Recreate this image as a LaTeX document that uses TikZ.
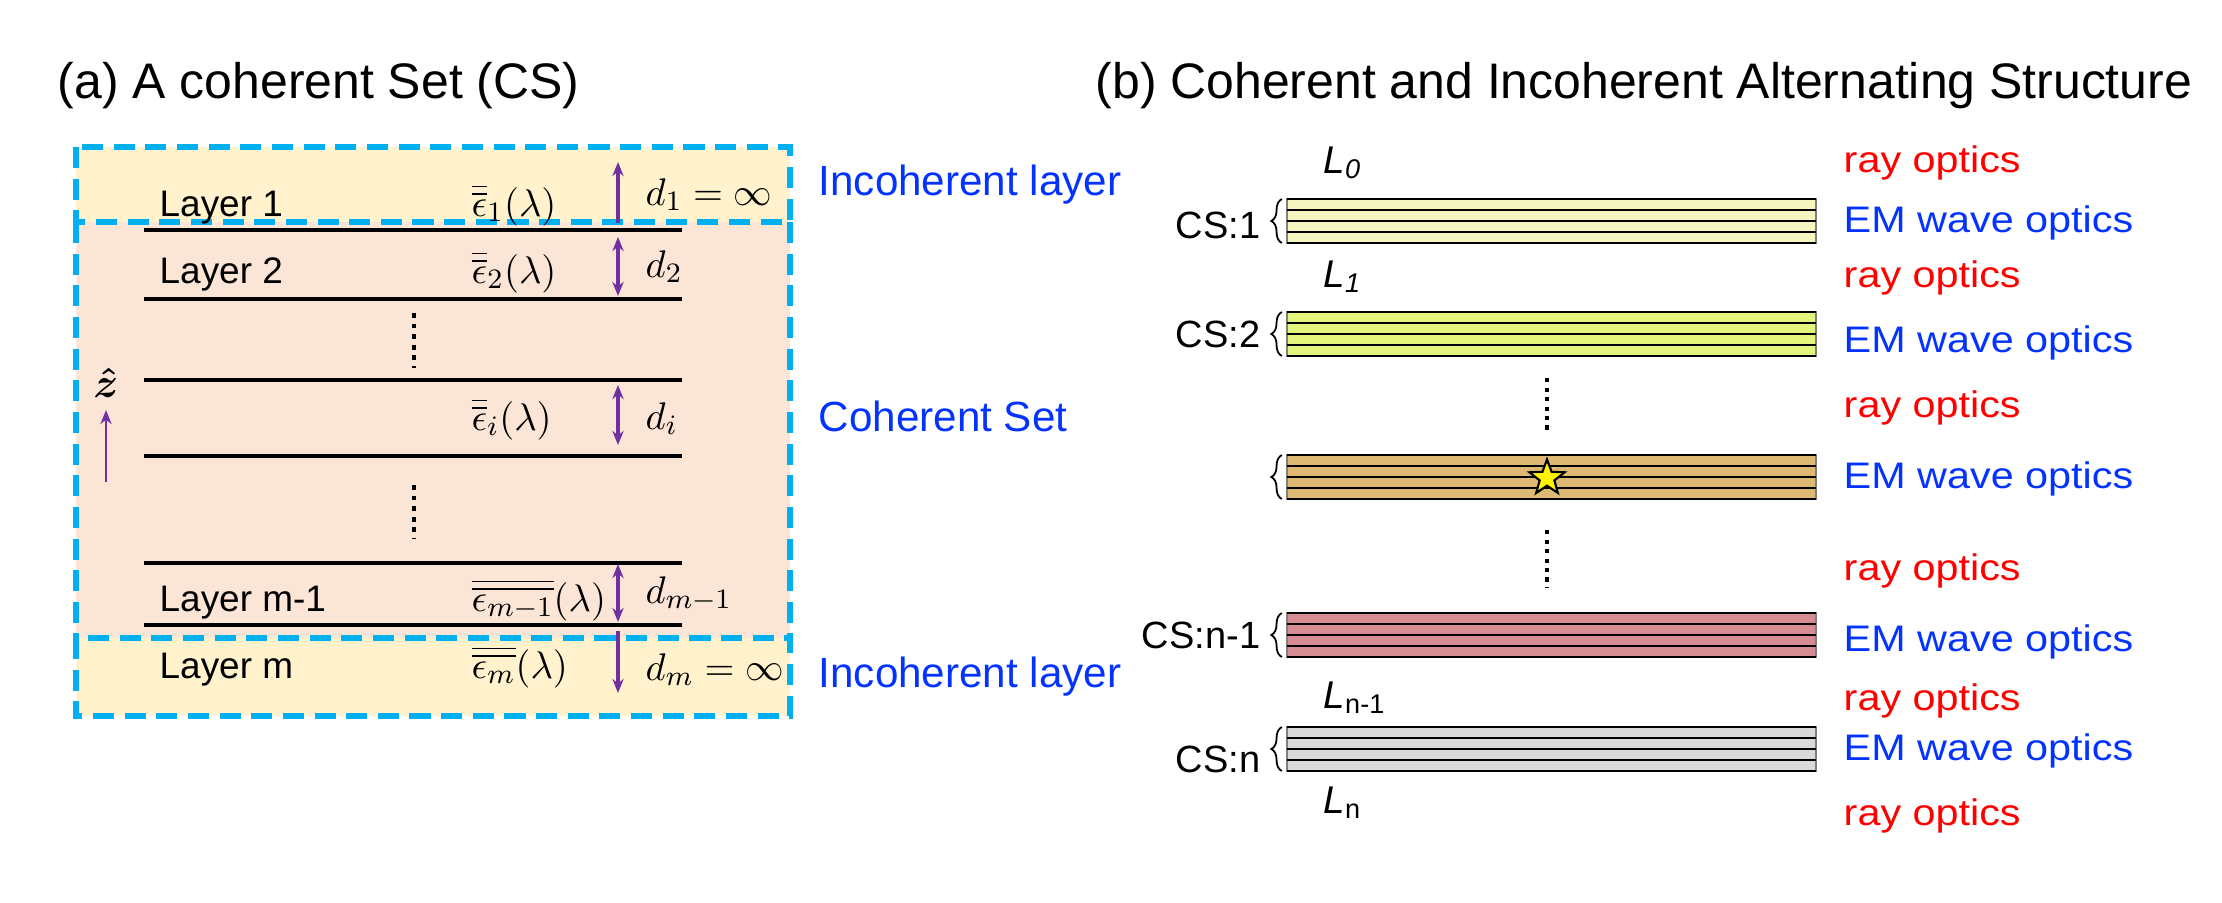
\documentclass[tikz,border=0pt]{standalone}
\usepackage{amsmath,amssymb}
\usepackage{fontspec}
\setmainfont{Liberation Sans}
\newfontfamily\optfont[FakeStretch=1.12]{Liberation Sans}
\usetikzlibrary{arrows.meta,positioning,shapes.geometric,decorations.pathreplacing}

\definecolor{incohfill}{HTML}{FFF2CC}
\definecolor{cohfill}{HTML}{FBE5D6}
\definecolor{dashblue}{HTML}{00B0F0}
\definecolor{dimpurple}{HTML}{7030A0}
\definecolor{labblue}{HTML}{0433FF}
\definecolor{rayred}{HTML}{FF0000}
\definecolor{csA}{HTML}{F4F5C1}
\definecolor{csB}{HTML}{E5F47C}
\definecolor{csC}{HTML}{DDB973}
\definecolor{csD}{HTML}{D58C92}
\definecolor{csE}{HTML}{D9D9D9}

\begin{document}
\begin{tikzpicture}[x=0.01cm,y=-0.01cm,>={Stealth[length=4pt,width=3.2pt]},
    paneltitle/.style={font=\fontsize{14.2}{16}\selectfont,anchor=base west,inner sep=0pt},
    layertxt/.style={font=\fontsize{10.5}{12}\selectfont,anchor=base west,inner sep=0pt},
    epstxt/.style={font=\fontsize{11}{13}\selectfont,anchor=base west,inner sep=0pt},
    sidetxt/.style={font=\fontsize{12}{14}\selectfont,text=labblue,anchor=base west,inner sep=0pt},
    regionbox/.style={dashblue,line width=1.5pt,dash pattern=on 6pt off 3pt},
    layerline/.style={line width=0.9pt},
    dimarrow/.style={dimpurple,line width=0.9pt},
    dotcol/.style={line width=1.4pt,dash pattern=on 1.4pt off 1.6pt},
    stackbox/.style={rectangle,draw=gray,line width=0.4pt,minimum width=5.29cm,
        minimum height=0.44cm,inner sep=0pt,outer sep=0pt},
    stackline/.style={line width=0.8pt},
    csbrace/.style={decorate,decoration={brace,amplitude=3pt},line width=0.5pt},
    cslbl/.style={font=\fontsize{10.8}{12}\selectfont,inner sep=0pt},
    ltxt/.style={font=\fontsize{11}{13}\selectfont,anchor=base west,inner sep=0pt},
    raytxt/.style={font=\optfont\fontsize{10.5}{12}\selectfont,text=rayred,anchor=base west,inner sep=0pt},
    emtxt/.style={font=\optfont\fontsize{10.5}{12}\selectfont,text=labblue,anchor=base west,inner sep=0pt},
    starmark/.style={star,star points=5,star point ratio=2.4,minimum size=0.37cm,
        inner sep=0pt,fill=yellow,draw=black,line width=0.6pt}]
\useasboundingbox (0,0) rectangle (2222,902);

\node[paneltitle] (ta) at (57,98) {(a) A coherent Set (CS)};
\node[paneltitle] (tb) at (1095,98) {(b) Coherent and Incoherent Alternating Structure};

% (a) one coherent set between two incoherent layers
\fill[incohfill] (76,147) rectangle (790,222);
\fill[cohfill] (76,222) rectangle (790,638);
\fill[incohfill] (76,638) rectangle (790,716);
\draw[regionbox] (76,222) -- (76,638) (790,222) -- (790,638);
\draw[regionbox] (76,147) rectangle (790,222);
\draw[regionbox] (76,638) rectangle (790,716);

\foreach \y in {230,299,380,456,563,625}
  \draw[layerline] (144,\y) -- (682,\y);

\foreach \y/\t [count=\i] in {216/Layer 1,283/Layer 2,611/Layer m-1,678/Layer m}
  \node[layertxt] (layer\i) at (159,\y) {\t};

\node[epstxt] (eps1) at (471,216) {$\overline{\overline{\epsilon}}_1(\lambda)$};
\node[epstxt] (eps2) at (471,283) {$\overline{\overline{\epsilon}}_2(\lambda)$};
\node[epstxt] (epsi) at (471,430) {$\overline{\overline{\epsilon}}_i(\lambda)$};
\node[epstxt] (epsmm) at (471,611) {$\overline{\overline{\epsilon_{m-1}}}(\lambda)$};
\node[epstxt] (epsm) at (471,678) {$\overline{\overline{\epsilon_{m}}}(\lambda)$};

\node[epstxt] (d1) at (645,205) {$d_1=\infty$};
\node[epstxt] (d2) at (645,277) {$d_2$};
\node[epstxt] (di) at (645,429) {$d_i$};
\node[epstxt] (dmm) at (645,603) {$d_{m-1}$};
\node[epstxt] (dm) at (645,680) {$d_m=\infty$};

\coordinate (a1a) at (618,223); \coordinate (a1b) at (618,162);
\coordinate (a2a) at (618,237); \coordinate (a2b) at (618,296);
\coordinate (aia) at (618,385); \coordinate (aib) at (618,445);
\coordinate (amma) at (618,564); \coordinate (ammb) at (618,622);
\coordinate (ama) at (618,631); \coordinate (amb) at (618,693);
\draw[dimarrow,->] (a1a) -- (a1b);
\draw[dimarrow,<->] (a2a) -- (a2b);
\draw[dimarrow,<->] (aia) -- (aib);
\draw[dimarrow,<->] (amma) -- (ammb);
\draw[dimarrow,->] (ama) -- (amb);

\draw[dotcol] (414,313) -- (414,368);
\draw[dotcol] (414,485) -- (414,538);

\node[font=\fontsize{12}{14}\selectfont] (zhat) at (106,383) {$\boldsymbol{\hat{z}}$};
\coordinate (ztail) at (106,482);
\draw[->,dimpurple,line width=0.6pt] (ztail) -- (zhat.south);

\node[sidetxt] (incohtop) at (818,195) {Incoherent layer};
\node[sidetxt] (cohset) at (818,431) {Coherent Set};
\node[sidetxt] (incohbot) at (818,687) {Incoherent layer};

% (b) stacks of coherent sets
\foreach \nm/\yt/\col in {csone/199/csA,cstwo/312/csB,csstar/455/csC,csnm/613/csD,csn/727/csE} {
  \node[stackbox,fill=\col] (\nm) at (1551.5,\yt+22) {};
  \foreach \k in {0,...,4}
    \draw[stackline] (1287,\yt+11*\k) -- (1816,\yt+11*\k);
  \draw[csbrace] ([xshift=-0.05cm]\nm.south west) -- ([xshift=-0.05cm]\nm.north west);
}
\node[starmark] (star) at (1547,478) {};

\node[cslbl,left=0.26cm of csone,yshift=-0.04cm] (lblone) {CS:1};
\node[cslbl,left=0.26cm of cstwo] (lbltwo) {CS:2};
\node[cslbl,left=0.26cm of csnm] (lblnm) {CS:n-1};
\node[cslbl,left=0.26cm of csn,yshift=-0.1cm] (lbln) {CS:n};

\foreach \y/\t [count=\i] in {173/\textit{0},287/\textit{1},708/n-1,813/n}
  \node[ltxt] (ell\i) at (1323,\y) {\textit{L}\textsubscript{\t}};

\draw[dotcol,line width=1.2pt,dash pattern=on 1.2pt off 1.5pt] (1547,378) -- (1547,433);
\draw[dotcol,line width=1.2pt,dash pattern=on 1.2pt off 1.5pt] (1547,530) -- (1547,587);

\foreach \y [count=\i] in {172,287,417,580,710,825}
  \node[raytxt] (ray\i) at (1843,\y) {ray optics};
\foreach \y [count=\i] in {232,352,488,651,760}
  \node[emtxt] (em\i) at (1843,\y) {EM wave optics};
\end{tikzpicture}
\end{document}
